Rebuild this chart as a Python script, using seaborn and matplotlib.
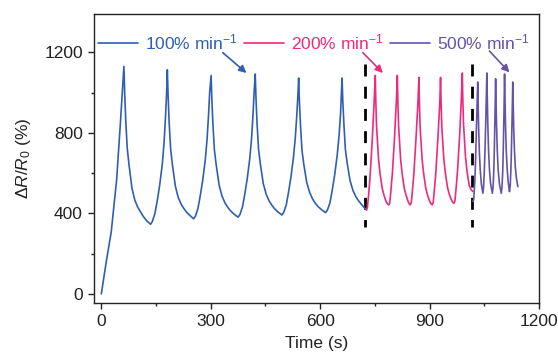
import numpy as np
import pandas as pd
import matplotlib
matplotlib.use("Agg")
import matplotlib.pyplot as plt
from matplotlib.ticker import MultipleLocator
import seaborn as sns

#%% DATA
# 100 % min-1 : first loading ramp + 6 cycles
t_100 = [0, 14, 27, 42, 52, 62,
         64, 67, 71, 76, 84, 92, 100, 107, 115, 125, 135,
         140, 147, 153, 160, 167, 172, 176, 179, 181,
         183, 186, 190, 195, 203, 211, 219, 226, 234, 244, 253,
         258, 265, 271, 278, 285, 290, 294, 297, 301,
         303, 306, 310, 315, 323, 331, 339, 346, 354, 364, 375,
         380, 387, 393, 400, 407, 412, 416, 419, 422,
         424, 427, 431, 436, 444, 452, 460, 467, 475, 485, 495,
         500, 507, 513, 520, 527, 532, 536, 539, 541,
         543, 546, 550, 555, 563, 571, 579, 586, 594, 604, 615,
         620, 627, 633, 640, 647, 652, 656, 658, 660,
         662, 665, 669, 674, 682, 690, 698, 705, 713, 720, 727]
v_100 = [0, 165, 305, 567, 840, 1130,
         1000, 860, 724, 640, 525, 465, 430, 409, 385, 362, 346,
         360, 400, 459, 540, 641, 750, 880, 1000, 1113,
         990, 850, 720, 640, 535, 478, 445, 425, 405, 388, 373,
         386, 425, 485, 565, 665, 770, 890, 1000, 1085,
         970, 840, 715, 640, 540, 485, 452, 432, 413, 396, 381,
         394, 432, 492, 572, 672, 775, 895, 1005, 1092,
         975, 845, 720, 645, 548, 495, 462, 442, 423, 406, 392,
         405, 442, 502, 582, 682, 780, 890, 990, 1072,
         960, 840, 715, 645, 555, 505, 472, 452, 434, 418, 404,
         417, 454, 514, 594, 694, 790, 900, 990, 1072,
         960, 845, 720, 650, 562, 513, 482, 463, 445, 430, 417]

# 200 % min-1 : 5 cycles
t_200 = [727, 729.5, 733, 736.5, 739.5, 742.5, 744.5, 747.5, 751,
         752.5, 754.5, 757, 760, 764, 770, 775, 780, 784, 788.5,
         791, 794.5, 798, 801, 804, 806, 809, 811.5,
         813, 815, 817.5, 820.5, 824.5, 830.5, 835.5, 840.5, 844, 847,
         850, 853.5, 857, 860, 863, 865, 868, 870.7,
         872, 874, 876.5, 879.5, 883.5, 889.5, 894.5, 899.5, 903, 907,
         910, 913.5, 917, 920, 923, 925, 928, 930,
         931.5, 933.5, 936, 939, 943, 949, 954, 959, 963, 966.6,
         969.5, 973, 976.5, 979.5, 982.5, 984.5, 987, 989.6,
         991, 993, 995.5, 998.5, 1002.5, 1008.5, 1013, 1018.6]
v_200 = [417, 430, 495, 575, 665, 755, 830, 935, 1085,
         960, 835, 760, 670, 600, 525, 490, 462, 448, 442,
         455, 525, 600, 691, 780, 856, 960, 1085,
         960, 835, 760, 670, 600, 525, 490, 462, 448, 442,
         455, 525, 600, 691, 780, 850, 950, 1075,
         955, 830, 755, 668, 600, 525, 490, 464, 450, 442,
         455, 525, 600, 691, 780, 850, 950, 1075,
         955, 830, 755, 670, 603, 530, 495, 470, 456, 450,
         462, 532, 610, 700, 790, 870, 970, 1097,
         970, 845, 770, 680, 610, 540, 520, 508]

# 500 % min-1 : 5 cycles
t_500 = [1018.6, 1021, 1024, 1026, 1028, 1030, 1032,
         1033, 1034.5, 1036.5, 1039, 1042, 1046,
         1048, 1050, 1052, 1054, 1055.5, 1057,
         1058, 1059.5, 1061.5, 1064, 1067, 1072,
         1074, 1076, 1077.5, 1079, 1080, 1081,
         1082, 1083.5, 1085.5, 1088, 1091.5, 1096.5,
         1098.5, 1100.5, 1102, 1103.5, 1104.5, 1105.5,
         1106.5, 1108, 1110, 1112.5, 1115.5, 1119,
         1121, 1123, 1124.5, 1126, 1127, 1128,
         1129, 1130.5, 1132.5, 1135, 1138, 1142]
v_500 = [459, 470, 560, 660, 800, 930, 1052,
         950, 820, 700, 610, 545, 500,
         530, 610, 720, 860, 980, 1097,
         990, 850, 720, 620, 550, 500,
         530, 610, 720, 860, 960, 1068,
         970, 840, 715, 615, 545, 500,
         530, 610, 720, 860, 970, 1092,
         990, 850, 720, 625, 555, 508,
         538, 620, 730, 860, 950, 1052,
         960, 830, 720, 630, 575, 533]

rate_labels = ['100% min$^{-1}$', '200% min$^{-1}$', '500% min$^{-1}$']
rate_colors = ['#2f5fb3', '#ee2a7b', '#6653a8']
switch_times = [724, 1016]

#%% STYLE
sns.set_theme(style='ticks')
plt.rcParams['font.family'] = ['Liberation Sans', 'DejaVu Sans']
plt.rcParams['mathtext.fontset'] = 'custom'
plt.rcParams['mathtext.rm'] = 'Liberation Sans'
plt.rcParams['mathtext.it'] = 'Liberation Sans:italic'
plt.rcParams['mathtext.bf'] = 'Liberation Sans:bold'
txt = '#222222'

fig = plt.figure(figsize=(5.58, 3.59), dpi=100)
ax = fig.add_axes([0.1685, 0.156, 0.7975, 0.805])

#%% CURVES
for t, v, lab, col in zip([t_100, t_200, t_500], [v_100, v_200, v_500],
                          rate_labels, rate_colors):
    df = pd.DataFrame({'Time': t, 'dR': v})
    sns.lineplot(data=df, x='Time', y='dR', ax=ax, color=col, lw=1.2,
                 label=lab, estimator=None, sort=False, zorder=3)

for ts in switch_times:
    ax.plot([ts, ts], [1140, 330], color='black', lw=2, dashes=(4.3, 3.7),
            zorder=2)

# arrows pointing from labels to peaks
arrows = [((333, 1198), (398, 1097)), ((717, 1198), (772, 1097)),
          ((1064, 1206), (1119, 1100))]
for (tail, head), col in zip(arrows, rate_colors):
    ax.annotate('', xy=head, xytext=tail,
                arrowprops=dict(arrowstyle='-|>', color=col, lw=1.2,
                                mutation_scale=11, shrinkA=0, shrinkB=0))

#%% AXES
ax.set_xlim(-20, 1200)
ax.set_ylim(-45, 1390)
ax.xaxis.set_major_locator(MultipleLocator(300))
ax.xaxis.set_minor_locator(MultipleLocator(150))
ax.yaxis.set_major_locator(MultipleLocator(400))
ax.yaxis.set_minor_locator(MultipleLocator(200))
ax.set_yticks([0, 400, 800, 1200])
ax.tick_params(which='major', direction='out', length=4, width=1,
               labelsize=12.5, colors=txt, pad=4)
ax.tick_params(which='minor', direction='out', length=2.5, width=1, colors=txt)
for s in ax.spines.values():
    s.set_visible(True)
    s.set_color(txt)
    s.set_linewidth(1.0)

ax.set_xlabel('Time (s)', fontsize=12.5, color=txt, labelpad=5)
ax.set_ylabel(r'$\Delta R/R_0$ (%)', fontsize=12.5, color=txt, labelpad=8)

ax.legend(loc='center left', bbox_to_anchor=(0.009, 0.903), ncol=3,
          frameon=False, fontsize=12.5, handlelength=2.3, handletextpad=0.4,
          columnspacing=0.36, borderpad=0, borderaxespad=0,
          labelcolor='linecolor')

plt.savefig('out.png', dpi=100)
